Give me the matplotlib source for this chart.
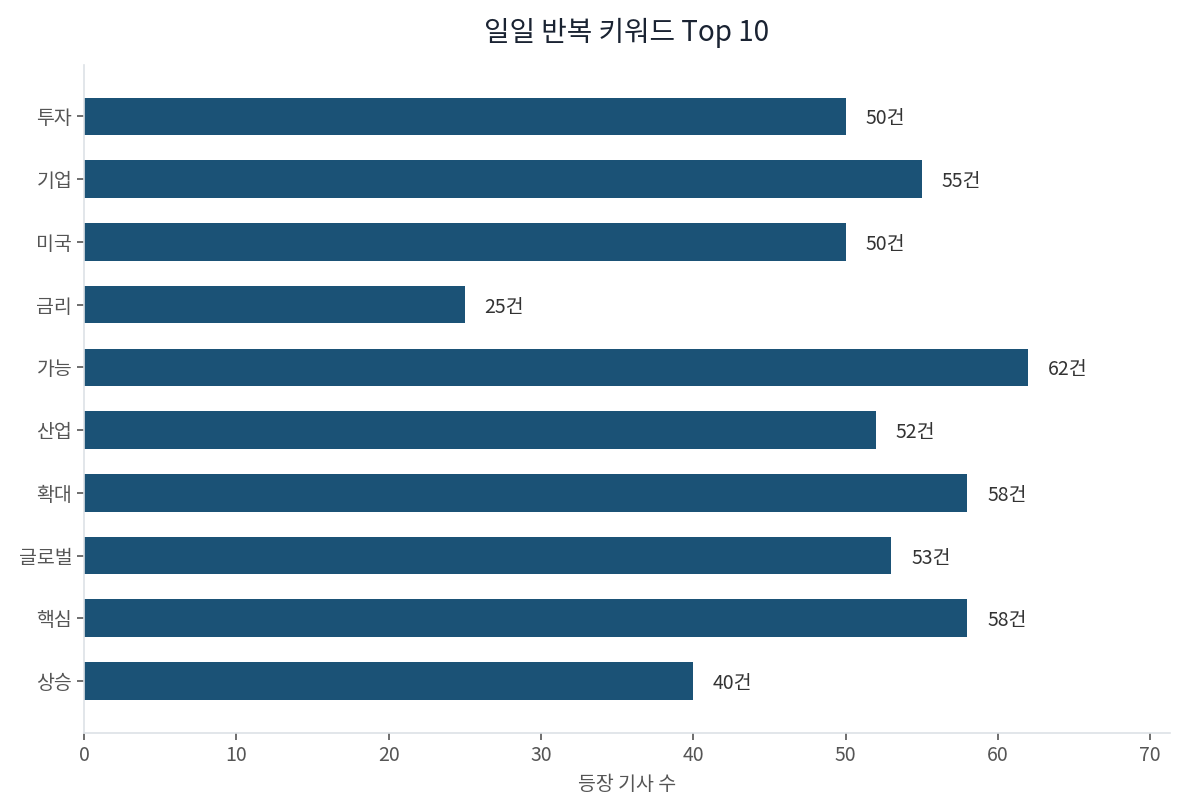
import matplotlib
matplotlib.use('Agg')
import matplotlib.pyplot as plt

keywords = ['투자', '기업', '미국', '금리', '가능', '산업', '확대', '글로벌', '핵심', '상승']
counts = [50, 55, 50, 25, 62, 52, 58, 53, 58, 40]

plt.rcParams['font.family'] = ['Noto Sans CJK KR', 'DejaVu Sans']

fig, ax = plt.subplots(figsize=(11.85, 8.09), dpi=100)
fig.subplots_adjust(left=0.0709, right=0.9873, top=0.9197, bottom=0.0939)

y = range(len(keywords))
ax.barh(y, counts, height=0.6, color='#1b5276')
ax.set_yticks(list(y))
ax.set_yticklabels(keywords)
ax.set_ylim(len(keywords) - 1 + 0.83, -0.82)
ax.set_xlim(0, max(counts) * 1.15)

# 막대 끝에 값 표시
for i, v in enumerate(counts):
    ax.text(v + 1.3, i, f'{v}건', va='center_baseline', ha='left', fontsize=14, color='#333333')

ax.set_title('일일 반복 키워드 Top 10', fontsize=20, color='#1a2332', pad=17)
ax.set_xlabel('등장 기사 수', fontsize=14, color='#555555', labelpad=6)

for s in ['top', 'right']:
    ax.spines[s].set_visible(False)
for s in ['left', 'bottom']:
    ax.spines[s].set_color('#dde1e6')
    ax.spines[s].set_linewidth(1.2)
ax.tick_params(axis='both', labelsize=14, labelcolor='#555555', color='#555555', length=5, width=1.2)

plt.savefig('out.png', dpi=100)
